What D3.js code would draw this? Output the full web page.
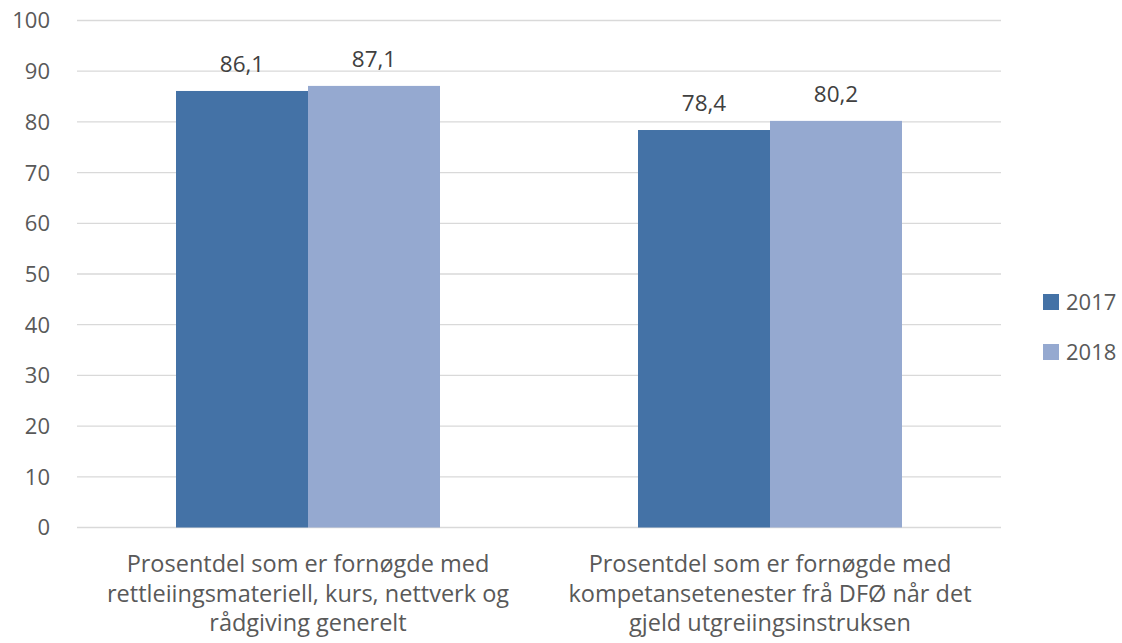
<!DOCTYPE html>
<html lang="no">
<head>
<meta charset="UTF-8">
<title>Fornøgde med kompetansetenester</title>
<script src="https://cdnjs.cloudflare.com/ajax/libs/d3/7.8.5/d3.min.js"></script>
<style>
    body { margin: 0; background: #fff; }
    svg { font-family: "Open Sans", sans-serif; }
</style>
</head>
<body>
<svg id="chart" width="1122" height="643"></svg>
<script>
    const categories = [
        ["Prosentdel som er fornøgde med", "rettleiingsmateriell, kurs, nettverk og", "rådgiving generelt"],
        ["Prosentdel som er fornøgde med", "kompetansetenester frå DFØ når det", "gjeld utgreiingsinstruksen"]
    ];
    const years = ["2017", "2018"];
    const values2017 = [86.1, 78.4];
    const values2018 = [87.1, 80.2];
    const yTicks = [0, 10, 20, 30, 40, 50, 60, 70, 80, 90, 100];

    const colors = { "2017": "#4472a6", "2018": "#95a9d0" };
    const textColor = "#595959";

    const svg = d3.select("#chart");
    const plotLeft = 77, plotRight = 1001, plotTop = 20.5, plotBottom = 527.5;

    const x = d3.scaleBand().domain(d3.range(categories.length)).range([plotLeft, plotRight]);
    const y = d3.scaleLinear().domain([0, 100]).range([plotBottom, plotTop]);
    const barW = 132;
    const inner = d3.scaleBand().domain(years).range([0, barW * 2]);

    // gridlines
    svg.append("g")
        .selectAll("line")
        .data(yTicks)
        .join("line")
        .attr("x1", plotLeft).attr("x2", plotRight)
        .attr("y1", d => y(d)).attr("y2", d => y(d))
        .attr("stroke", "#d9d9d9")
        .attr("stroke-width", 1.3);

    // y tick labels
    svg.append("g")
        .selectAll("text")
        .data(yTicks)
        .join("text")
        .attr("x", 50)
        .attr("y", d => y(d))
        .attr("dy", "0.36em")
        .attr("text-anchor", "end")
        .attr("fill", textColor)
        .style("font-size", "22px")
        .text(d => d);

    const rows = [];
    categories.forEach((c, i) => {
        rows.push({ cat: i, year: "2017", value: values2017[i] });
        rows.push({ cat: i, year: "2018", value: values2018[i] });
    });

    const barX = d => x(d.cat) + x.bandwidth() / 2 - barW + inner(d.year);

    svg.append("g")
        .selectAll("rect")
        .data(rows)
        .join("rect")
        .attr("x", barX)
        .attr("width", inner.bandwidth())
        .attr("y", d => y(d.value))
        .attr("height", d => y(0) - y(d.value))
        .attr("fill", d => colors[d.year]);

    // value labels
    svg.append("g")
        .selectAll("text")
        .data(rows)
        .join("text")
        .attr("x", d => barX(d) + inner.bandwidth() / 2)
        .attr("y", d => y(d.value) - 19)
        .attr("text-anchor", "middle")
        .attr("fill", "#404040")
        .style("font-size", "22.5px")
        .text(d => d3.format(".1f")(d.value).replace(".", ","));

    // category labels
    const catG = svg.append("g")
        .selectAll("text")
        .data(categories)
        .join("text")
        .attr("x", (d, i) => x(i) + x.bandwidth() / 2)
        .attr("y", 572)
        .attr("text-anchor", "middle")
        .attr("fill", textColor)
        .style("font-size", "23.5px");
    catG.selectAll("tspan")
        .data(d => d)
        .join("tspan")
        .attr("x", function () { return this.parentNode.getAttribute("x"); })
        .attr("dy", (d, i) => i === 0 ? 0 : 29.5)
        .text(d => d);

    // legend
    const legend = svg.append("g")
        .selectAll("g")
        .data(years)
        .join("g")
        .attr("transform", (d, i) => `translate(1043, ${294 + i * 50})`);
    legend.append("rect")
        .attr("width", 16).attr("height", 16)
        .attr("fill", d => colors[d]);
    legend.append("text")
        .attr("x", 23)
        .attr("y", 8)
        .attr("dy", "0.36em")
        .attr("fill", textColor)
        .style("font-size", "22px")
        .text(d => d);
</script>
</body>
</html>
